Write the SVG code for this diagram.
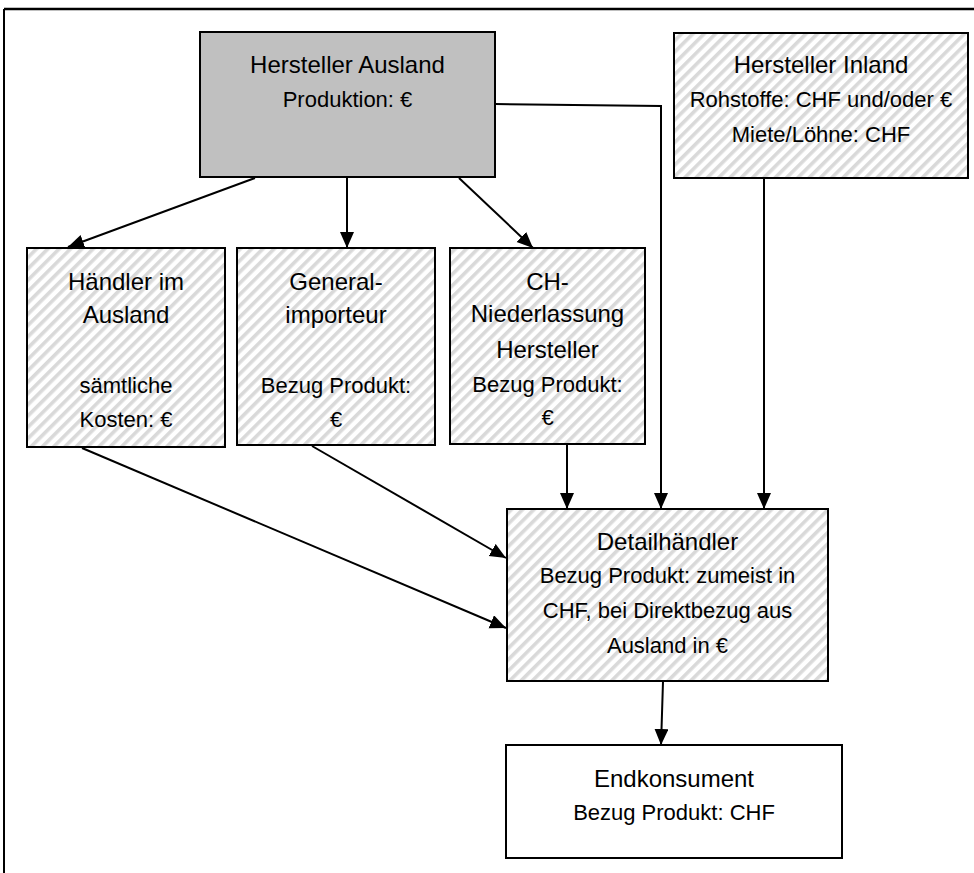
<svg xmlns="http://www.w3.org/2000/svg" width="974" height="873" viewBox="0 0 974 873">
<style>
.box{stroke:#000;stroke-width:2}
.hatch{fill:url(#hatch)}
.t{font-family:"Liberation Sans",Arial,sans-serif;font-size:24px;fill:#000;text-anchor:middle}
.s{font-family:"Liberation Sans",Arial,sans-serif;font-size:22px;fill:#000;text-anchor:middle}
.c{stroke:#000;stroke-width:2;fill:none}
</style>
<defs>
<pattern id="hatch" width="8" height="8" patternUnits="userSpaceOnUse" patternTransform="rotate(45)">
<rect width="8" height="8" fill="#fff"/>
<rect width="3.6" height="8" fill="#d9d9d9"/>
</pattern>
<marker id="arr" markerUnits="userSpaceOnUse" markerWidth="17" markerHeight="15" refX="16" refY="7" orient="auto">
<path d="M0,0 L16,7 L0,14 z" fill="#000"/>
</marker>
</defs>
<rect width="974" height="873" fill="#fff"/>
<g id="frame">
<line x1="4" y1="9" x2="974" y2="9" stroke="#000" stroke-width="2.5"/>
<line x1="4" y1="9" x2="4" y2="873" stroke="#000" stroke-width="2"/>
</g>
<g id="connectors">
<line class="c" x1="255" y1="178" x2="68" y2="247" marker-end="url(#arr)"/>
<line class="c" x1="347" y1="178" x2="347" y2="248" marker-end="url(#arr)"/>
<line class="c" x1="459" y1="178" x2="533" y2="248" marker-end="url(#arr)"/>
<polyline class="c" points="495,104 661,106 661,509" marker-end="url(#arr)"/>
<line class="c" x1="764" y1="179" x2="764" y2="509" marker-end="url(#arr)"/>
<line class="c" x1="567" y1="445" x2="567" y2="509" marker-end="url(#arr)"/>
<line class="c" x1="312" y1="446" x2="506" y2="558" marker-end="url(#arr)"/>
<line class="c" x1="82" y1="448" x2="506" y2="628" marker-end="url(#arr)"/>
<line class="c" x1="663" y1="682" x2="661" y2="745" marker-end="url(#arr)"/>
</g>
<g id="hersteller-ausland">
<rect class="box" x="200" y="32" width="295" height="145" fill="#c0c0c0"/>
<text class="t" x="347.5" y="73">Hersteller Ausland</text>
<text class="s" x="347.5" y="107">Produktion: €</text>
</g>
<g id="hersteller-inland">
<rect class="box hatch" x="674" y="33" width="294" height="145"/>
<text class="t" x="821" y="73">Hersteller Inland</text>
<text class="s" x="821" y="107">Rohstoffe: CHF und/oder €</text>
<text class="s" x="821" y="142">Miete/Löhne: CHF</text>
</g>
<g id="haendler-ausland">
<rect class="box hatch" x="27" y="248" width="198" height="199"/>
<text class="t" x="126" y="290">Händler im</text>
<text class="t" x="126" y="323">Ausland</text>
<text class="s" x="126" y="393">sämtliche</text>
<text class="s" x="126" y="427">Kosten: €</text>
</g>
<g id="generalimporteur">
<rect class="box hatch" x="237" y="248" width="198" height="197"/>
<text class="t" x="336" y="290">General-</text>
<text class="t" x="336" y="323">importeur</text>
<text class="s" x="336" y="393">Bezug Produkt:</text>
<text class="s" x="336" y="427">€</text>
</g>
<g id="ch-niederlassung">
<rect class="box hatch" x="450" y="248" width="195" height="196"/>
<text class="t" x="547.5" y="290">CH-</text>
<text class="t" x="547.5" y="322">Niederlassung</text>
<text class="t" x="547.5" y="358">Hersteller</text>
<text class="s" x="547.5" y="392">Bezug Produkt:</text>
<text class="s" x="547.5" y="425">€</text>
</g>
<g id="detailhaendler">
<rect class="box hatch" x="507" y="509" width="321" height="172"/>
<text class="t" x="667.5" y="550">Detailhändler</text>
<text class="s" x="667.5" y="583">Bezug Produkt: zumeist in</text>
<text class="s" x="667.5" y="618">CHF, bei Direktbezug aus</text>
<text class="s" x="667.5" y="653">Ausland in €</text>
</g>
<g id="endkonsument">
<rect class="box" x="506" y="745" width="336" height="113" fill="#fff"/>
<text class="t" x="674" y="787">Endkonsument</text>
<text class="s" x="674" y="820">Bezug Produkt: CHF</text>
</g>
</svg>
